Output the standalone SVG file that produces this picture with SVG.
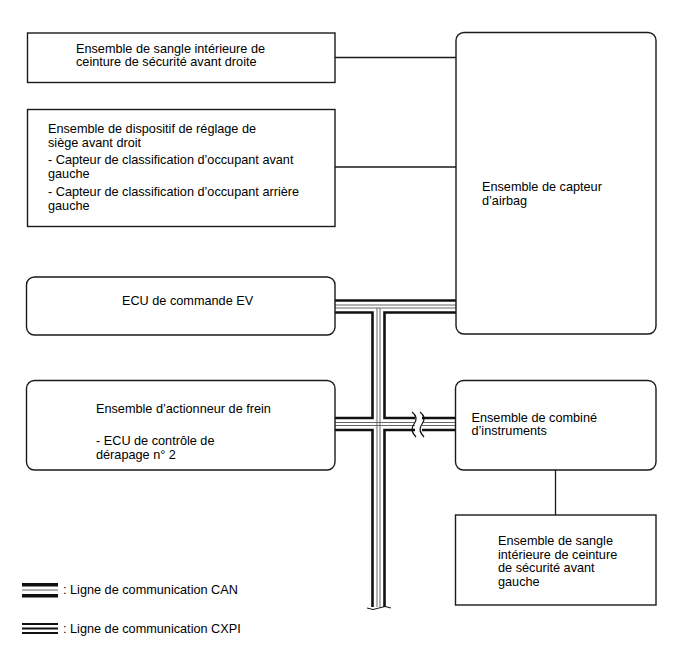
<svg xmlns="http://www.w3.org/2000/svg" width="688" height="658" viewBox="0 0 688 658">
<style>
.box{fill:#fff;stroke:#1a1a1a;stroke-width:1.4}
.t{font-family:"Liberation Sans",Arial,sans-serif;font-size:12.7px;fill:#000}
.w{fill:none;stroke:#1a1a1a;stroke-width:1.3}
.o{fill:none;stroke:#111;stroke-width:2.6}
.i{fill:none;stroke:#666;stroke-width:1}
</style>
<rect width="688" height="658" fill="#fff"/>
<g id="connectors">
<line class="w" x1="335" y1="57.5" x2="456" y2="57.5"/>
<line class="w" x1="335" y1="167" x2="456" y2="167"/>
<line class="w" x1="555.5" y1="470" x2="555.5" y2="515"/>
<g id="can-bus">
<line class="o" x1="335" y1="300.5" x2="456" y2="300.5"/>
<path class="o" d="M335,312.5 H372.5 V418 H335"/>
<path class="o" d="M456,312.5 H384.5 V418 H456"/>
<path class="o" d="M335,430 H372.5 V607"/>
<path class="o" d="M456,430 H384.5 V607"/>
<line class="i" x1="335" y1="305" x2="456" y2="305"/>
<line class="i" x1="335" y1="308" x2="456" y2="308"/>
<line class="i" x1="377" y1="308" x2="377" y2="607"/>
<line class="i" x1="380" y1="308" x2="380" y2="607"/>
<line class="i" x1="335" y1="422.5" x2="456" y2="422.5"/>
<line class="i" x1="335" y1="425.5" x2="456" y2="425.5"/>
<rect x="415" y="414" width="7" height="20" fill="#fff"/>
<path fill="none" stroke="#111" stroke-width="1.2" d="M412,412 C417,416 417,420 414,424 C411,428 411,432 416,437"/>
<path fill="none" stroke="#111" stroke-width="1.2" d="M420,412 C425,416 425,420 422,424 C419,428 419,432 424,437"/>
<rect x="366" y="608" width="26" height="6" fill="#fff"/>
<path fill="none" stroke="#111" stroke-width="1" d="M367,608 Q373,611 379,608 Q385,605 391,608"/>
</g>
</g>
<g id="n1">
<rect class="box" x="27.5" y="33" width="307.5" height="49.5"/>
<text class="t" x="76" y="53">Ensemble de sangle intérieure de</text>
<text class="t" x="76" y="66">ceinture de sécurité avant droite</text>
</g>
<g id="n2">
<rect class="box" x="27.5" y="109.5" width="307.5" height="117"/>
<text class="t" x="48" y="133">Ensemble de dispositif de réglage de</text>
<text class="t" x="48" y="146.5">siège avant droit</text>
<text class="t" x="48" y="164">- Capteur de classification d’occupant avant</text>
<text class="t" x="48" y="178">gauche</text>
<text class="t" x="48" y="196">- Capteur de classification d’occupant arrière</text>
<text class="t" x="48" y="210">gauche</text>
</g>
<g id="n3">
<rect class="box" x="456" y="32.5" width="200" height="301.5" rx="8"/>
<text class="t" x="482" y="191">Ensemble de capteur</text>
<text class="t" x="482" y="205">d’airbag</text>
</g>
<g id="n4">
<rect class="box" x="26.5" y="277" width="308.5" height="58" rx="8"/>
<text class="t" x="122" y="305">ECU de commande EV</text>
</g>
<g id="n5">
<rect class="box" x="26.5" y="380.5" width="308.5" height="89.5" rx="8"/>
<text class="t" x="96" y="413">Ensemble d’actionneur de frein</text>
<text class="t" x="96" y="444.5">- ECU de contrôle de</text>
<text class="t" x="96" y="458.5">dérapage n° 2</text>
</g>
<g id="n6">
<rect class="box" x="455.5" y="380.5" width="200.5" height="89.5" rx="8"/>
<text class="t" x="471.5" y="421.5">Ensemble de combiné</text>
<text class="t" x="471.5" y="435">d’instruments</text>
</g>
<g id="n7">
<rect class="box" x="455.5" y="515" width="200.5" height="90"/>
<text class="t" x="498" y="545">Ensemble de sangle</text>
<text class="t" x="498" y="558.5">intérieure de ceinture</text>
<text class="t" x="498" y="572">de sécurité avant</text>
<text class="t" x="498" y="585.5">gauche</text>
</g>
<g id="legend">
<rect x="22" y="583" width="36" height="3.5" fill="#111"/>
<rect x="22" y="589.5" width="36" height="1" fill="#666"/>
<rect x="22" y="594" width="36" height="3.5" fill="#111"/>
<text class="t" x="63" y="594">: Ligne de communication CAN</text>
<rect x="22" y="623" width="36" height="2" fill="#111"/>
<rect x="22" y="627.5" width="36" height="2" fill="#111"/>
<rect x="22" y="632" width="36" height="2" fill="#111"/>
<text class="t" x="63" y="633">: Ligne de communication CXPI</text>
</g>
</svg>
